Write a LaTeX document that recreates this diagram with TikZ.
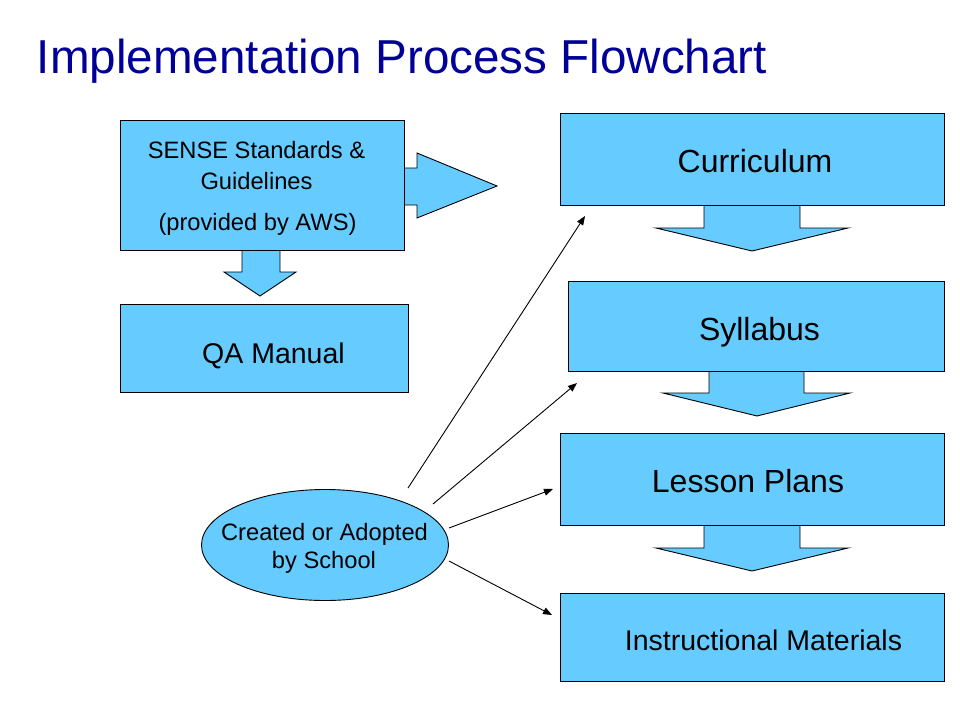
\documentclass[tikz,border=0pt]{standalone}
\usepackage{fontspec}
\setmainfont{Liberation Sans}
\usetikzlibrary{arrows.meta,shapes.geometric}
\definecolor{boxblue}{HTML}{66CCFF}
\definecolor{titleblue}{HTML}{000099}
\begin{document}
\begin{tikzpicture}[x=1pt,y=-1pt,
  box/.style={draw=black,fill=boxblue,line width=0.9pt,rectangle,inner sep=0pt},
  oval/.style={draw=black,fill=boxblue,line width=0.9pt,ellipse,inner sep=0pt},
  blockarrow/.style={draw=black,fill=boxblue,line width=0.9pt,line join=miter},
  thin/.style={draw=black,line width=0.9pt,-{Triangle[length=9pt,width=7pt]}},
  lbl/.style={inner sep=0pt,anchor=base,text=black},
  fs24/.style={font=\fontsize{23.7}{28}\selectfont},
  fs28/.style={font=\fontsize{28.5}{32}\selectfont},
  fs32/.style={font=\fontsize{32}{36}\selectfont}
]
\useasboundingbox[fill=white] (0,0) rectangle (960,720);

% title
\node[lbl,text=titleblue,font=\fontsize{47.6}{52}\selectfont] (title) at (402,73) {Implementation Process Flowchart};

% block arrows (drawn first, boxes on top)
\draw[blockarrow] (398,168) -- (417,168) -- (417,153) -- (497,186) -- (417,218) -- (417,205) -- (398,205) -- cycle;
\draw[blockarrow] (242,244) -- (242,272) -- (224,272) -- (260,296) -- (296,272) -- (280,272) -- (280,244) -- cycle;
\draw[blockarrow] (704,199) -- (704,228) -- (656,228) -- (752,251) -- (848,228) -- (800,228) -- (800,199) -- cycle;
\draw[blockarrow] (709,365) -- (709,393) -- (663,393) -- (757,416) -- (850,393) -- (804,393) -- (804,365) -- cycle;
\draw[blockarrow] (704,519) -- (704,548) -- (656,548) -- (752,571) -- (848,548) -- (800,548) -- (800,519) -- cycle;

% boxes
\node[box,minimum width=284pt,minimum height=130pt] (sense) at (262,185) {};
\node[box,minimum width=288pt,minimum height=88pt] (qa) at (264,348) {};
\node[box,minimum width=384pt,minimum height=92pt] (curr) at (752,159) {};
\node[box,minimum width=376pt,minimum height=90pt] (syll) at (756,326) {};
\node[box,minimum width=384pt,minimum height=92pt] (lesson) at (752,479) {};
\node[box,minimum width=384pt,minimum height=88pt] (instr) at (752,637) {};
\node[oval,minimum width=247pt,minimum height=111pt] (school) at (325,545) {};

% texts
\node[lbl,fs24] (t1a) at (256.5,158) {SENSE Standards \&};
\node[lbl,fs24] (t1b) at (256.5,189) {Guidelines};
\node[lbl,fs24] (t1c) at (257.5,230) {(provided by AWS)};
\node[lbl,fs28] (t2) at (273.5,363) {QA Manual};
\node[lbl,fs32] (t3) at (755,172) {Curriculum};
\node[lbl,fs32] (t4) at (759.5,340) {Syllabus};
\node[lbl,fs32] (t5) at (748,492) {Lesson Plans};
\node[lbl,fs28] (t6) at (763.5,650) {Instructional Materials};
\node[lbl,fs24] (t7a) at (324.5,540) {Created or Adopted};
\node[lbl,fs24] (t7b) at (324,568) {by School};

% thin arrows
\coordinate (s1) at (408,488); \coordinate (e1) at (585,216);
\coordinate (s2) at (433,504); \coordinate (e2) at (577,383);
\coordinate (s3) at (449,528); \coordinate (e3) at (553,489);
\coordinate (s4) at (449,561); \coordinate (e4) at (552,615);
\draw[thin] (s1) -- (e1);
\draw[thin] (s2) -- (e2);
\draw[thin] (s3) -- (e3);
\draw[thin] (s4) -- (e4);
\end{tikzpicture}
\end{document}
